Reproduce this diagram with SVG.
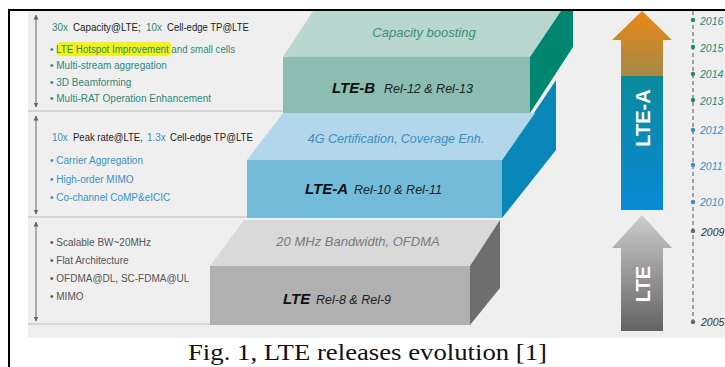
<svg xmlns="http://www.w3.org/2000/svg" width="725" height="367" viewBox="0 0 725 367">
<defs>
<style>
.hd{font-family:"Liberation Sans",Arial,sans-serif;font-size:11.5px;fill:#222}
.bt{font-family:"Liberation Sans",Arial,sans-serif;font-size:10px}
.teal{fill:#2a8a7a}.blue{fill:#3a8fc4}.grey{fill:#555}
.it{font-family:"Liberation Sans",Arial,sans-serif;font-style:italic}
.bl{font-family:"Liberation Sans",Arial,sans-serif;font-style:italic;font-weight:bold;font-size:15px;fill:#111}
.rel{font-family:"Liberation Sans",Arial,sans-serif;font-style:italic;font-size:12.5px;fill:#222}
.yr{font-family:"Liberation Sans",Arial,sans-serif;font-style:italic;font-size:10.5px}
.sep{stroke:#bdbdbd;stroke-width:1.2}
.va{stroke:#666;stroke-width:1;marker-start:url(#ah);marker-end:url(#ah)}
</style>
<marker id="ah" viewBox="0 0 10 10" refX="9" refY="5" markerWidth="5" markerHeight="8" orient="auto-start-reverse" markerUnits="userSpaceOnUse"><path d="M0,0 L10,5 L0,10 z" fill="#666"/></marker>
<linearGradient id="gA" x1="0" y1="0" x2="0" y2="1"><stop offset="0" stop-color="#0b8a9c"/><stop offset="1" stop-color="#0a8ad8"/></linearGradient>
<linearGradient id="gH" x1="0" y1="0" x2="0" y2="1"><stop offset="0" stop-color="#ea8812"/><stop offset="1" stop-color="#a48a48"/></linearGradient>
<linearGradient id="gL" x1="0" y1="0" x2="0" y2="1"><stop offset="0" stop-color="#cdcdcd"/><stop offset="1" stop-color="#636363"/></linearGradient>
</defs>
<rect width="725" height="367" fill="#fff"/>
<rect x="28" y="11" width="697" height="327" fill="#efefef"/>
<path d="M9,367 V10 H725" fill="none" stroke="#000" stroke-width="2"/>

<g id="panel-lteb">
<line class="sep" x1="28" y1="111" x2="284" y2="111"/>
<line class="va" x1="36" y1="15" x2="36" y2="107"/>
<text class="hd teal" transform="translate(52,31) scale(0.86,1)">30x</text>
<text class="hd" transform="translate(73,31) scale(0.85,1)">Capacity@LTE;</text>
<text class="hd teal" transform="translate(146,31) scale(0.86,1)">10x</text>
<text class="hd" transform="translate(167,31) scale(0.83,1)">Cell-edge TP@LTE</text>
<rect x="57" y="42" width="114" height="14" rx="3" fill="#f2f21a"/>
<text class="bt teal" x="50" y="53" textLength="185" lengthAdjust="spacingAndGlyphs">• LTE Hotspot Improvement and small cells</text>
<text class="bt teal" x="50" y="69">• Multi-stream aggregation</text>
<text class="bt teal" x="50" y="86">• 3D Beamforming</text>
<text class="bt teal" x="50" y="102">• Multi-RAT Operation Enhancement</text>
</g>

<g id="panel-ltea">
<line class="sep" x1="28" y1="217" x2="248" y2="217"/>
<line class="va" x1="36" y1="116" x2="36" y2="214"/>
<text class="hd blue" transform="translate(52,141) scale(0.85,1)">10x</text>
<text class="hd" transform="translate(73,141) scale(0.83,1)">Peak rate@LTE,</text>
<text class="hd blue" transform="translate(147,141) scale(0.86,1)">1.3x</text>
<text class="hd" transform="translate(170,141) scale(0.84,1)">Cell-edge TP@LTE</text>
<text class="bt blue" x="50" y="164">• Carrier Aggregation</text>
<text class="bt blue" x="50" y="183">• High-order MIMO</text>
<text class="bt blue" x="50" y="201">• Co-channel CoMP&amp;eICIC</text>
</g>

<g id="panel-lte">
<line class="sep" x1="28" y1="324" x2="211" y2="324"/>
<line class="va" x1="36" y1="222" x2="36" y2="321"/>
<text class="bt grey" x="50" y="246">• Scalable BW~20MHz</text>
<text class="bt grey" x="50" y="264">• Flat Architecture</text>
<text class="bt grey" x="50" y="282">• OFDMA@DL, SC-FDMA@UL</text>
<text class="bt grey" x="50" y="300">• MIMO</text>
</g>

<g id="block-lte">
<polygon points="210,266 244,220 500,220 470,266" fill="#d9d9d9"/>
<polygon points="470,266 500,220 500,288 470,325" fill="#6e6e6e"/>
<rect x="210" y="266" width="260" height="59" fill="#b0b0b0"/>
<text class="it" x="358" y="246" font-size="13" fill="#7a7a7a" text-anchor="middle">20 MHz Bandwidth, OFDMA</text>
<text class="bl" x="283" y="304">LTE</text>
<text class="rel" x="316" y="304">Rel-8 &amp; Rel-9</text>
</g>

<g id="block-ltea">
<polygon points="502,160 540,104 556,80 556,150 502,218" fill="#0a87b9"/>
<polygon points="247,160 283,113 535,113 502,160" fill="#b3d7ea"/>
<rect x="247" y="160" width="255" height="58" fill="#72bcd9"/>
<text class="it" x="396" y="143" font-size="12.5" fill="#3a8fc4" text-anchor="middle">4G Certification, Coverage Enh.</text>
<text class="bl" x="305" y="194">LTE-A</text>
<text class="rel" x="354" y="194">Rel-10 &amp; Rel-11</text>
</g>

<g id="block-lteb">
<polygon points="283,57 313,11 561,11 530,57" fill="#b9d6cf"/>
<polygon points="530,57 561,11 573,11 573,47 530,113" fill="#00856f"/>
<rect x="283" y="57" width="247" height="56" fill="#8bbdb3"/>
<text class="it" x="424" y="37" font-size="13" fill="#3a8f80" text-anchor="middle">Capacity boosting</text>
<text class="bl" x="332" y="93">LTE-B</text>
<text class="rel" x="384" y="93">Rel-12 &amp; Rel-13</text>
</g>

<g id="arrow-ltea">
<path d="M642,11 L672,40 L663,40 L663,76 L621,76 L621,40 L612,40 Z" fill="url(#gH)"/>
<rect x="621" y="76" width="42" height="134" fill="url(#gA)"/>
<text transform="translate(650,118) rotate(-90)" font-family="Liberation Sans,Arial,sans-serif" font-weight="bold" font-size="20" fill="#fff" text-anchor="middle">LTE-A</text>
</g>

<g id="arrow-lte">
<path d="M642,215 L672,248 L663,248 L663,331 L621,331 L621,248 L612,248 Z" fill="url(#gL)"/>
<text transform="translate(650,284) rotate(-90)" font-family="Liberation Sans,Arial,sans-serif" font-weight="bold" font-size="20" fill="#fff" text-anchor="middle">LTE</text>
</g>

<g id="timeline">
<line x1="693" y1="11" x2="693" y2="326" stroke="#555" stroke-width="1" stroke-dasharray="4,3"/>
<g fill="#1b8a78">
<circle cx="693" cy="20" r="2.2"/><circle cx="693" cy="47" r="2.2"/><circle cx="693" cy="74" r="2.2"/><circle cx="693" cy="100" r="2.2"/>
</g>
<g fill="#3a8fc4">
<circle cx="693" cy="130" r="2.2"/><circle cx="693" cy="165" r="2.2"/><circle cx="693" cy="202" r="2.2"/>
</g>
<g fill="#666">
<circle cx="693" cy="231" r="2.2"/><circle cx="693" cy="322" r="2.2"/>
</g>
<text class="yr teal" x="700" y="25">2016</text>
<text class="yr teal" x="700" y="52">2015</text>
<text class="yr teal" x="700" y="78">2014</text>
<text class="yr teal" x="700" y="105">2013</text>
<text class="yr blue" x="700" y="134">2012</text>
<text class="yr blue" x="700" y="170">2011</text>
<text class="yr blue" x="700" y="206">2010</text>
<text class="yr" x="701" y="236" fill="#333">2009</text>
<text class="yr" x="701" y="326" fill="#333">2005</text>
</g>

<text x="188" y="360" font-family="Liberation Serif,Times New Roman,serif" font-size="23" fill="#111" textLength="359" lengthAdjust="spacingAndGlyphs">Fig. 1, LTE releases evolution [1]</text>
</svg>
